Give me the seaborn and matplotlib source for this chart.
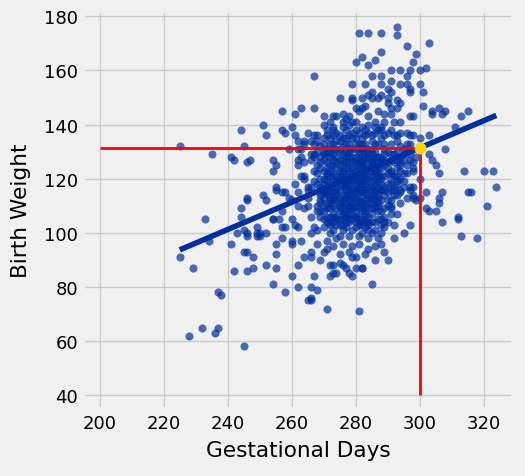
import numpy as np
import pandas as pd
import seaborn as sns
import matplotlib.pyplot as plt

# (gestational days, birth weight) pairs, grouped by region
left_tail = [(225, 132), (235, 129), (241, 128), (242, 127), (244, 138), (245, 132), (246, 126), (247, 127),
             (244, 109), (246, 113), (246, 112), (233, 105), (234, 97), (241, 96), (243, 100), (245, 101),
             (246, 99), (245, 93), (246, 93), (242, 86), (246, 86), (225, 91), (229, 87), (237, 78),
             (238, 77), (232, 65), (237, 65), (228, 62), (236, 63), (245, 58), (248, 91), (248, 87),
             (249, 102), (249, 99), (250, 99), (252, 100), (249, 100), (250, 100), (251, 114), (252, 112),
             (251, 140), (252, 136), (254, 127), (255, 125), (254, 123), (252, 88), (254, 105), (254, 81),
             (246, 100), (244, 106)]

upper = [(281, 174), (280, 163), (267, 158), (279, 155), (275, 150), (279, 149), (280, 146), (257, 145),
         (263, 146), (267, 146), (261, 144), (270, 143), (273, 143), (276, 144), (279, 141), (260, 139),
         (257, 138), (258, 137), (261, 136), (268, 136), (273, 139), (272, 135), (264, 134), (266, 134),
         (267, 133), (259, 131), (262, 131), (263, 131), (293, 176), (293, 173), (284, 174), (288, 174),
         (303, 170), (296, 169), (299, 166), (288, 167), (282, 165), (284, 162), (286, 164), (298, 163),
         (291, 160), (294, 160), (297, 160), (300, 160), (302, 161), (296, 158), (285, 158), (288, 158),
         (291, 156), (300, 155), (283, 155), (288, 155), (290, 153), (296, 155), (294, 155), (291, 152),
         (288, 151), (290, 148), (294, 148), (297, 153), (301, 152), (279, 150), (282, 150), (285, 150),
         (293, 149), (291, 146), (293, 146), (301, 147), (304, 145), (304, 144), (306, 146), (307, 144),
         (308, 145), (313, 143), (315, 145), (297, 143), (311, 139), (303, 136), (308, 131)]

upper_core = [(284, 151), (285, 152), (287, 150), (290, 150), (297, 152), (281, 145), (282, 146), (283, 147),
              (287, 145), (289, 144), (291, 144), (292, 141), (294, 141), (298, 143), (289, 141), (277, 142),
              (274, 143), (278, 140), (280, 141), (282, 139), (284, 140), (286, 141), (288, 139), (265, 137),
              (267, 136), (268, 134), (273, 136), (274, 137), (275, 136), (288, 138), (290, 137), (292, 136),
              (294, 137), (296, 137), (297, 136), (298, 136), (262, 134), (264, 133), (269, 132), (272, 133),
              (280, 133), (288, 135), (289, 133), (294, 132), (297, 133), (300, 135), (296, 133), (270, 140),
              (276, 139), (271, 138), (277, 135), (279, 137), (283, 136), (285, 134), (286, 137), (282, 133),
              (276, 132), (270, 135)]

right_tail = [(303, 129), (304, 127), (305, 125), (306, 122), (298, 126), (298, 123), (300, 120), (314, 123),
              (320, 123), (323, 123), (324, 117), (315, 115), (316, 115), (307, 115), (302, 115), (321, 110),
              (312, 106), (312, 105), (313, 99), (318, 98), (307, 104), (302, 109), (303, 108), (305, 108),
              (306, 111), (306, 113), (300, 113), (298, 113), (299, 112), (297, 116), (298, 117), (297, 103),
              (295, 100), (292, 103), (292, 98), (290, 104), (293, 107), (291, 110), (294, 111), (299, 128),
              (298, 124), (297, 127), (296, 125), (294, 126), (298, 114), (296, 113), (294, 115), (297, 117),
              (293, 119), (291, 120), (288, 121), (294, 116)]

lower = [(290, 90), (286, 90), (282, 87), (285, 81), (281, 71), (279, 91), (273, 88), (255, 92), (255, 87),
         (255, 96), (257, 98), (260, 96), (260, 84), (262, 88), (262, 80), (266, 80), (268, 79), (265, 75),
         (266, 75), (271, 72), (267, 84), (264, 91), (266, 91), (258, 78), (272, 88), (273, 85), (274, 85),
         (275, 89), (276, 88), (277, 87), (279, 84), (278, 85), (280, 91), (272, 84), (280, 87), (282, 87),
         (266, 93), (270, 93), (271, 94), (273, 95), (271, 97), (274, 98), (268, 96), (279, 95), (281, 96),
         (284, 94), (286, 95), (287, 98), (284, 98), (263, 97), (266, 76), (260, 97), (276, 96), (278, 93),
         (283, 92), (288, 96), (289, 93), (275, 92), (269, 90)]

mid_left = [(257, 102), (258, 102), (254, 105), (256, 105), (260, 105), (261, 103), (262, 102), (257, 108),
            (255, 116), (257, 115), (258, 115), (262, 115), (259, 113), (261, 118), (265, 116), (265, 113),
            (255, 117), (264, 121), (263, 121), (264, 120), (265, 117), (266, 117), (263, 128), (264, 126),
            (266, 129), (266, 127), (267, 129), (267, 128), (262, 127), (262, 125), (267, 123), (266, 100),
            (268, 101), (267, 102), (264, 109), (262, 110), (266, 106), (268, 108), (260, 112), (269, 111),
            (267, 119), (268, 125), (269, 115), (265, 110)]

core = [(270, 130), (272, 128), (274, 131), (276, 129), (278, 130), (280, 128), (282, 131), (284, 129),
        (286, 130), (288, 128), (290, 130), (292, 129), (294, 128), (296, 130), (271, 126), (275, 127),
        (279, 126), (283, 127), (287, 126), (291, 127), (295, 127), (273, 129), (277, 128), (281, 129),
        (285, 127), (289, 129), (293, 130),
        (269, 124), (271, 122), (273, 125), (275, 123), (277, 124), (279, 122), (281, 125), (283, 123),
        (285, 124), (287, 122), (289, 125), (291, 123), (293, 124), (295, 122), (270, 120), (272, 123),
        (274, 121), (276, 125), (278, 120), (280, 123), (282, 121), (284, 126), (286, 120), (288, 124),
        (290, 122), (292, 126), (294, 123),
        (270, 118), (272, 116), (274, 119), (276, 117), (278, 118), (280, 116), (282, 119), (284, 117),
        (286, 118), (288, 116), (290, 118), (292, 117), (271, 121), (273, 117), (275, 120), (277, 116),
        (279, 119), (281, 117), (283, 120), (285, 116), (287, 119), (289, 117), (291, 116), (293, 118),
        (269, 112), (271, 114), (273, 110), (275, 113), (277, 111), (279, 114), (281, 112), (283, 110),
        (285, 113), (287, 111), (289, 114), (291, 112), (270, 115), (272, 111), (274, 115), (276, 112),
        (278, 110), (280, 115), (282, 113), (284, 111), (286, 115), (288, 112), (290, 110), (292, 114),
        (270, 108), (272, 106), (274, 109), (276, 105), (278, 107), (280, 104), (282, 108), (284, 106),
        (286, 109), (288, 105), (271, 104), (273, 107), (275, 108), (277, 104), (279, 109), (281, 106),
        (283, 104), (285, 107), (287, 108), (289, 106), (291, 107),
        (270, 102), (272, 100), (274, 103), (276, 101), (278, 99), (280, 102), (282, 100), (284, 103),
        (286, 101), (288, 100), (273, 101), (277, 102), (281, 99), (285, 100), (289, 102), (275, 99),
        (279, 101), (283, 102),
        (276, 122), (278, 126), (280, 120), (282, 124), (284, 128), (286, 123), (288, 127), (280, 131),
        (282, 127), (285, 121), (279, 113), (281, 118), (283, 115), (278, 133), (283, 131), (277, 114),
        (285, 119), (287, 114), (280, 110), (282, 116)]

core_fill = [(271, 131), (273, 133), (275, 131), (277, 133), (279, 131), (281, 133), (283, 133), (285, 131),
             (287, 133), (289, 131), (291, 133), (293, 134), (295, 131), (271, 136), (273, 138), (275, 134),
             (277, 138), (279, 135), (281, 137), (283, 138), (285, 136), (287, 138), (289, 136), (291, 138),
             (293, 136), (278, 143), (280, 138), (284, 143), (286, 139), (276, 141), (272, 141),
             (269, 128), (271, 129), (273, 127), (275, 130), (277, 126), (279, 128), (281, 127), (283, 129),
             (285, 129), (287, 128), (289, 127), (291, 129), (293, 127), (295, 129), (297, 129), (270, 127),
             (274, 126), (278, 128), (282, 126), (286, 127), (290, 126), (294, 125),
             (270, 123), (272, 121), (274, 124), (276, 120), (278, 122), (280, 125), (282, 122), (284, 121),
             (286, 124), (288, 120), (290, 124), (292, 121), (294, 120), (296, 122), (271, 119), (273, 122),
             (275, 121), (277, 119), (279, 124), (281, 121), (283, 124), (285, 123), (287, 121), (289, 121),
             (291, 122), (293, 121), (295, 119),
             (269, 117), (271, 117), (273, 115), (275, 118), (277, 118), (279, 116), (281, 115), (283, 118),
             (285, 114), (287, 117), (289, 116), (291, 118), (293, 114), (295, 117), (270, 113), (272, 114),
             (274, 117), (276, 114), (278, 116), (280, 113), (282, 118), (284, 114), (286, 116), (288, 118),
             (290, 115), (292, 116),
             (270, 110), (272, 109), (274, 112), (276, 110), (278, 112), (280, 108), (282, 110), (284, 109),
             (286, 112), (288, 108), (290, 112), (271, 111), (273, 112), (275, 110), (277, 109), (279, 111),
             (281, 109), (283, 112), (285, 109), (287, 110), (289, 109), (291, 109),
             (271, 106), (273, 104), (275, 105), (277, 107), (279, 105), (281, 103), (283, 107), (285, 104),
             (287, 105), (289, 104), (272, 103), (274, 106), (276, 107), (278, 104), (280, 106), (282, 105),
             (284, 101), (286, 104), (288, 103)]

# densest part of the cloud, roughly 268-287 days and 104-134 oz
dense_centre = [(270, 133), (274, 134), (278, 136), (282, 135), (286, 133), (280, 135), (284, 137), (276, 135),
                (270, 129), (272, 130), (274, 128), (276, 127), (278, 131), (280, 126), (282, 129), (284, 131),
                (286, 128), (268, 130), (269, 126), (273, 131), (277, 130), (281, 131), (285, 126),
                (271, 124), (273, 120), (275, 125), (277, 121), (279, 120), (281, 123), (283, 121), (285, 125),
                (287, 124), (272, 125), (276, 123), (280, 121), (284, 124), (268, 122), (269, 120), (278, 124),
                (282, 125), (286, 122),
                (270, 116), (272, 118), (274, 114), (276, 119), (278, 114), (280, 118), (282, 115), (284, 119),
                (286, 113), (271, 115), (275, 116), (279, 117), (283, 116), (287, 116), (268, 118), (269, 114),
                (277, 117), (281, 119), (285, 117),
                (271, 109), (273, 113), (275, 111), (277, 113), (279, 110), (281, 111), (283, 108), (285, 111),
                (287, 113), (272, 112), (276, 108), (280, 112), (284, 113), (268, 110), (269, 108), (278, 109),
                (282, 111), (286, 110),
                (270, 105), (272, 104), (274, 105), (276, 103), (278, 105), (280, 106), (282, 103), (284, 104),
                (273, 106), (277, 106), (281, 104), (269, 106), (275, 103), (279, 107), (283, 105)]

fit_slope = 0.502
fit_intercept = -19.25
predict_at = 300

pts = left_tail + upper + upper_core + right_tail + lower + mid_left + core + core_fill + dense_centre
df = pd.DataFrame(pts, columns=['Gestational Days', 'Birth Weight'])

plt.style.use('fivethirtyeight')
plt.rcParams['font.family'] = ['DejaVu Sans']

fig = plt.figure(figsize=(5.25, 4.77), dpi=100)
ax = fig.add_axes([0.158, 0.140, 0.819, 0.835])

blue = '#0030a0'
sns.scatterplot(data=df, x='Gestational Days', y='Birth Weight', ax=ax,
                color=blue, alpha=0.7, s=34, linewidth=0, zorder=3)

# regression line over the range of the data
xs = np.array([df['Gestational Days'].min(), df['Gestational Days'].max()])
ax.plot(xs, fit_intercept + fit_slope * xs, color=blue, lw=4, zorder=4)

pred = fit_intercept + fit_slope * predict_at
ax.plot([200, predict_at], [pred, pred], color='red', lw=2, zorder=5)
ax.plot([predict_at, predict_at], [40, pred], color='red', lw=2, zorder=5)
ax.scatter([predict_at], [pred], color='gold', s=65, zorder=6)

ax.set_xlim(194.7, 329.2)
ax.set_ylim(34.8, 182)
ax.set_xticks(range(200, 321, 20))
ax.set_yticks(range(40, 181, 20))
ax.tick_params(labelsize=13)
ax.set_xlabel('Gestational Days', fontsize=15.6, labelpad=6)
ax.set_ylabel('Birth Weight', fontsize=15.6, labelpad=9)

fig.savefig('out.png', facecolor='#f0f0f0')
